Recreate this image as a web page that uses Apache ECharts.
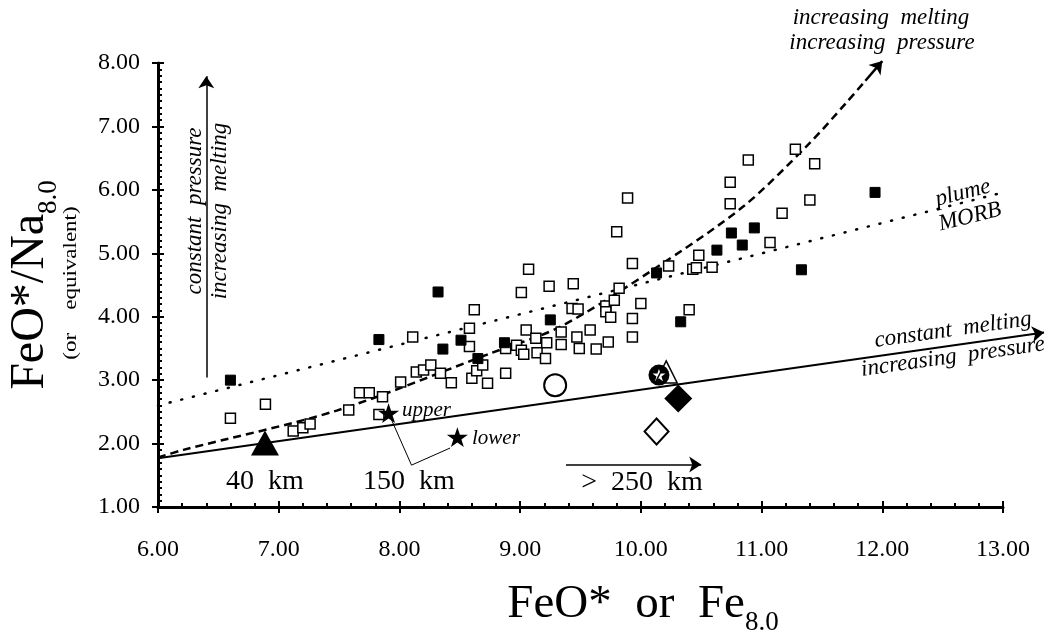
<!DOCTYPE html>
<html lang="en">
<head>
<meta charset="UTF-8">
<title>FeO* vs FeO*/Na8.0</title>
<script src="https://cdn.jsdelivr.net/npm/echarts@6.0.0/dist/echarts.min.js"></script>
<style>
  *{margin:0;padding:0;}
  #chart{width:1062px;height:635px;background:#fff;}
</style>
</head>
<body>
<div id="chart"></div>
<script>
// axis ranges
var xRange = [6, 13];
var yRange = [1, 8];

// data: [FeO*, FeO*/Na8.0]
var filledSquares = [
  [6.60, 3.00], [7.83, 3.64], [8.32, 4.39], [8.36, 3.49], [8.51, 3.63], [8.65, 3.34],
  [8.87, 3.59], [9.25, 3.95], [10.13, 4.69], [10.33, 3.92], [10.63, 5.05], [10.75, 5.32],
  [10.84, 5.13], [10.94, 5.40], [11.33, 4.74], [11.94, 5.96]
];
var openSquares = [
  [6.60, 2.40], [6.89, 2.62], [7.12, 2.20], [7.20, 2.25], [7.26, 2.31], [7.58, 2.53],
  [7.67, 2.80], [7.75, 2.80], [7.86, 2.74], [7.83, 2.46], [8.01, 2.97], [8.11, 3.68],
  [8.14, 3.13], [8.20, 3.16], [8.26, 3.24], [8.34, 3.11], [8.43, 2.96], [8.58, 3.53],
  [8.58, 3.82], [8.62, 4.11], [8.60, 3.03], [8.64, 3.15], [8.69, 3.24], [8.73, 2.95],
  [8.88, 3.11], [8.88, 3.50], [8.97, 3.55], [9.01, 3.47], [9.03, 3.41], [9.05, 3.79],
  [9.13, 3.66], [9.14, 3.43], [9.22, 3.59], [9.21, 3.34], [9.01, 4.38], [9.07, 4.75],
  [9.24, 4.48], [9.34, 3.76], [9.34, 3.56], [9.43, 4.13], [9.48, 4.12], [9.44, 4.52],
  [9.47, 3.68], [9.49, 3.50], [9.58, 3.79], [9.63, 3.49], [9.71, 4.17], [9.71, 4.08],
  [9.73, 3.60], [9.75, 3.99], [9.78, 4.26], [9.82, 4.45], [9.80, 5.34], [9.89, 5.87],
  [9.93, 4.84], [9.93, 3.97], [9.93, 3.68], [10.00, 4.21], [10.23, 4.80], [10.40, 4.11],
  [10.43, 4.75], [10.46, 4.77], [10.48, 4.97], [10.59, 4.78], [10.74, 5.78], [10.74, 6.12],
  [10.89, 6.47], [11.28, 6.64], [11.44, 6.41], [11.40, 5.84], [11.17, 5.63], [11.07, 5.17]
];
var bigTriangle = [[6.886, 2.01]];
var openCircle = [[9.29, 2.92]];
var starCircle = [[10.15, 3.08]];
var openTriangle = [[10.21, 3.13]];
var filledDiamond = [[10.31, 2.71]];
var openDiamond = [[10.13, 2.19]];
var stars = [[7.91, 2.48], [8.48, 2.10]];

// reference lines
var constantMelting = [[6.00, 1.77], [13.34, 3.75]];
var plumeMorb = [[6.00, 2.60], [13.15, 6.03]];
var meltingCurve = [[6.00, 1.78], [6.21, 1.90], [7.48, 2.52], [8.75, 3.42], [9.33, 3.84],
  [10.10, 4.74], [10.85, 5.74], [11.40, 6.74], [11.70, 7.37], [11.86, 7.72]];
var meltingCurveTip = [[11.86, 7.72], [12.00, 8.03]];
var pressureArrow = [[6.40, 3.04], [6.40, 7.79]];
var depthArrow = [[9.38, 1.67], [10.50, 1.67]];
var starLink = [[7.91, 2.48], [8.10, 1.66], [8.42, 1.93]];

var SERIF = 'Liberation Serif';
var starPath = 'path://M12,0 L14.9,8.6 L24,8.6 L16.6,14 L19.4,22.6 L12,17.3 L4.6,22.6 L7.4,14 L0,8.6 L9.1,8.6 Z';

function axisMain(range, minorSplit) {
  return {
    type: 'value', min: range[0], max: range[1], interval: 1,
    axisLine: {show: true, lineStyle: {color: '#000', width: 3}},
    axisTick: {show: true, inside: true, length: 6, lineStyle: {color: '#000', width: 2}},
    minorTick: {show: true, splitNumber: minorSplit, length: 4, lineStyle: {color: '#000', width: 2}},
    splitLine: {show: false},
    axisLabel: {
      color: '#000', fontFamily: SERIF, fontSize: 24,
      formatter: function (v) { return v.toFixed(2); }
    }
  };
}
function axisOuterTicks(range) {
  return {
    type: 'value', min: range[0], max: range[1], interval: 1,
    axisLine: {show: false},
    axisTick: {show: true, inside: false, length: 6, lineStyle: {color: '#000', width: 2}},
    axisLabel: {show: false}, splitLine: {show: false}
  };
}

function marker(data, symbol, size, fill, border, z) {
  return {
    type: 'scatter', data: data, symbol: symbol, symbolSize: size, symbolKeepAspect: true,
    itemStyle: {color: fill, borderColor: '#000', borderWidth: border, opacity: 1},
    z: z || 4, silent: true
  };
}
function arrowLine(coords, width) {
  return {
    type: 'lines', coordinateSystem: 'cartesian2d', clip: false, silent: true,
    symbol: ['none', 'arrow'], symbolSize: [0, 12],
    lineStyle: {color: '#000', width: width, opacity: 1, curveness: 0},
    data: [{coords: coords}], z: 3
  };
}

var chart = echarts.init(document.getElementById('chart'));
var xa = axisMain(xRange, 5);
xa.position = 'bottom';
xa.axisLabel.margin = 31;
var xb = axisOuterTicks(xRange);
xb.position = 'bottom';
var ya = axisMain(yRange, 10);
ya.position = 'left';
ya.axisLabel.margin = 18;
var yb = axisOuterTicks(yRange);
yb.position = 'left';

var italic = {fontFamily: SERIF, fontStyle: 'italic', fontSize: 23, fill: '#000'};
var plain = {fontFamily: SERIF, fontSize: 28, fill: '#000'};
function txt(text, x, y, rot, style, align) {
  return {
    type: 'text', x: x, y: y, rotation: (rot || 0) * Math.PI / 180, silent: true,
    style: Object.assign({text: text, align: align || 'center', verticalAlign: 'middle'}, style)
  };
}
// big title with a subscript; padding under the main part drops the subscript
function subTitle(main, sub, x, y, rot, size) {
  return {
    type: 'text', x: x, y: y, rotation: rot * Math.PI / 180, silent: true,
    style: {
      text: '{a|' + main + '}{b|' + sub + '}', align: 'center', verticalAlign: 'middle',
      rich: {
        a: {fontFamily: SERIF, fontSize: size, fill: '#000', verticalAlign: 'bottom', padding: [0, 0, 8, 0]},
        b: {fontFamily: SERIF, fontSize: 27, fill: '#000', verticalAlign: 'bottom'}
      }
    }
  };
}

chart.setOption({
  backgroundColor: '#fff',
  animation: false,
  grid: {left: 158, right: 59, top: 63, bottom: 128, containLabel: false},
  xAxis: [xa, xb],
  yAxis: [ya, yb],
  series: [
    // reference lines
    {
      type: 'line', data: plumeMorb, showSymbol: false, clip: false, silent: true,
      lineStyle: {color: '#000', width: 2.5, type: [1, 11], cap: 'round'}, z: 2
    },
    {
      type: 'line', data: meltingCurve, smooth: 0.3, showSymbol: false, clip: false, silent: true,
      lineStyle: {color: '#000', width: 2.5, type: [8, 5]}, z: 2
    },
    arrowLine(meltingCurveTip, 2.5),
    arrowLine(constantMelting, 2),
    arrowLine(pressureArrow, 1.5),
    arrowLine(depthArrow, 1.5),
    {
      type: 'line', data: starLink, showSymbol: false, silent: true,
      lineStyle: {color: '#000', width: 1}, z: 2
    },
    // samples
    marker(openSquares, 'rect', 10, '#fff', 1.5, 4),
    marker(filledSquares, 'rect', 10, '#000', 1, 5),
    // experiments / models
    marker(bigTriangle, 'triangle', [28, 25], '#000', 0, 6),
    marker(openCircle, 'circle', 22, '#fff', 2, 6),
    marker(starCircle, 'circle', 21, '#000', 0, 6),
    marker(starCircle, starPath, 13, '#fff', 0, 7),
    marker(openTriangle, 'triangle', [22, 22], 'rgba(0,0,0,0)', 1.5, 8),
    marker(filledDiamond, 'diamond', [28, 28], '#000', 0, 6),
    marker(openDiamond, 'diamond', [24, 26], '#fff', 2, 6),
    marker(stars, starPath, 21, '#000', 0, 6)
  ],
  graphic: [
    subTitle('FeO*/Na', '8.0', 34, 285, 90, 48),
    {
      type: 'text', x: 71, y: 283, rotation: Math.PI / 2, scaleY: 0.8, silent: true,
      style: {text: '(or    equivalent)', align: 'center', verticalAlign: 'middle',
        fontFamily: SERIF, fontSize: 23, fill: '#000'}
    },
    subTitle('FeO*  or  Fe', '8.0', 643, 609, 0, 47),
    txt('constant  pressure', 195, 211, 90, italic),
    txt('increasing  melting', 220, 211, 90, italic),
    txt('increasing  melting', 881, 18, 0, italic),
    txt('increasing  pressure', 882, 43, 0, italic),
    txt('plume', 963, 193, 14, italic),
    txt('MORB', 970, 217, 14, italic),
    txt('constant  melting', 953, 330, 8, italic),
    txt('increasing  pressure', 953, 357, 8, italic),
    txt('upper', 402, 410, 0, {fontFamily: SERIF, fontStyle: 'italic', fontSize: 21, fill: '#000'}, 'left'),
    txt('lower', 472, 438, 0, {fontFamily: SERIF, fontStyle: 'italic', fontSize: 21, fill: '#000'}, 'left'),
    txt('40  km', 265, 482, 0, plain),
    txt('150  km', 409, 482, 0, plain),
    txt('>  250  km', 642, 483, 0, plain)
  ]
});
</script>
</body>
</html>
